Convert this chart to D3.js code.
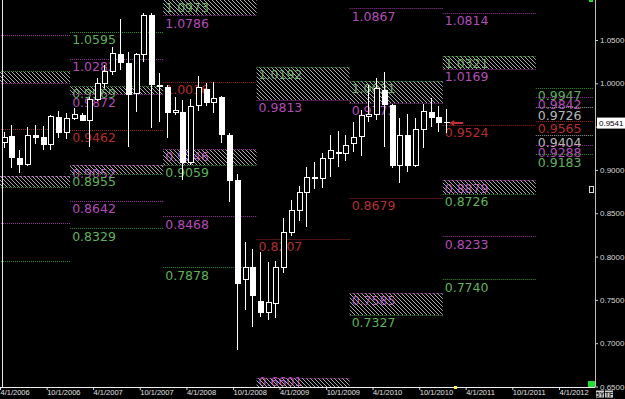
<!DOCTYPE html>
<html><head><meta charset="utf-8">
<script src="https://cdn.jsdelivr.net/npm/d3@7"></script>
<style>body{margin:0;background:#000;overflow:hidden}svg{display:block}</style>
</head><body><svg id="c" width="625" height="399"></svg>
<script>
// ---------- DATA ----------
const months = ["2006-04","2006-05","2006-06","2006-07","2006-08","2006-09","2006-10","2006-11","2006-12",
"2007-01","2007-02","2007-03","2007-04","2007-05","2007-06","2007-07","2007-08","2007-09","2007-10","2007-11","2007-12",
"2008-01","2008-02","2008-03","2008-04","2008-05","2008-06","2008-07","2008-08","2008-09","2008-10","2008-11","2008-12",
"2009-01","2009-02","2009-03","2009-04","2009-05","2009-06","2009-07","2009-08","2009-09","2009-10","2009-11","2009-12",
"2010-01","2010-02","2010-03","2010-04","2010-05","2010-06","2010-07","2010-08","2010-09","2010-10","2010-11","2010-12","2011-01"];
const open  = [0.9308,0.9389,0.9135,0.9058,0.9404,0.9384,0.9288,0.9615,0.9423,
0.9588,0.9635,0.9569,0.9808,0.9989,1.0127,1.0338,1.0238,0.9873,1.0327,1.0788,0.9981,
0.9954,0.9654,0.9673,0.9081,0.9738,0.9931,0.9770,0.9839,0.9404,0.8885,0.7731,0.7884,
0.7488,0.7347,0.7454,0.7866,0.8277,0.8530,0.8738,0.8908,0.8893,0.9124,0.9211,0.9181,
0.9297,0.9377,0.9615,0.9635,0.9923,0.9750,0.9046,0.9404,0.9050,0.9462,0.9673,0.9608,0.9555];
const high  = [0.9440,0.9519,0.9231,0.9493,0.9519,0.9511,0.9635,0.9681,0.9654,
0.9715,0.9660,0.9846,1.0058,1.0212,1.0423,1.0742,1.0365,1.0353,1.0808,1.0808,1.0123,
0.9981,0.9842,0.9808,0.9816,1.0085,1.0000,1.0019,0.9850,0.9423,0.8954,0.8173,0.8085,
0.8058,0.7935,0.7954,0.8443,0.8654,0.8815,0.9031,0.9096,0.9193,0.9404,0.9450,0.9404,
0.9557,0.9692,0.9981,1.0058,1.0134,0.9760,0.9597,0.9646,0.9597,0.9758,0.9831,0.9738,0.9700];
const low   = [0.9250,0.9027,0.8962,0.9050,0.9297,0.9231,0.9231,0.9366,0.9358,
0.9577,0.9560,0.9269,0.9796,0.9943,1.0096,1.0154,0.9269,0.9673,1.0250,0.9481,0.9557,
0.9366,0.9635,0.8885,0.9058,0.9681,0.9738,0.9654,0.9315,0.8634,0.6923,0.7385,0.7192,
0.7308,0.7269,0.7289,0.7808,0.8238,0.8415,0.8346,0.8777,0.8789,0.8923,0.9031,0.9107,
0.9211,0.9165,0.9557,0.9577,0.9269,0.9019,0.8854,0.8980,0.9038,0.9250,0.9490,0.9442,0.9423];
const close = [0.9384,0.9135,0.9058,0.9404,0.9373,0.9288,0.9623,0.9423,0.9597,
0.9643,0.9569,0.9819,1.0000,1.0146,1.0347,1.0238,0.9865,1.0338,1.0788,0.9981,0.9954,
0.9654,0.9692,0.9081,0.9738,0.9954,0.9770,0.9834,0.9404,0.8873,0.7685,0.7884,0.7546,
0.7347,0.7481,0.7877,0.8288,0.8538,0.8750,0.8916,0.8919,0.9135,0.9231,0.9181,0.9285,
0.9384,0.9635,0.9640,0.9943,0.9750,0.9046,0.9404,0.9050,0.9473,0.9681,0.9597,0.9539,0.9541];
const lastPrice = 0.9541;

// level periods
const periodNames = ["2006","2007","2008","2009","2010","2011","2012"];
const periodStart = ["2006-01-01","2007-01-01","2008-01-01","2009-01-01","2010-01-01","2011-01-01","2012-01-01"];
const periodEnd   = ["2007-01-01","2008-01-01","2009-01-01","2010-01-01","2011-01-01","2012-01-01","2012-08-15"];
const labelledPeriods = ["2007","2008","2009","2010","2011","2012"];

// single levels: period, value, colour kind
const lvlPeriod = ["2006","2006","2006","2006",
  "2007","2007","2007","2007","2007",
  "2008","2008","2008",
  "2009",
  "2010","2010",
  "2011","2011","2011","2011",
  "2012","2012","2012","2012","2012","2012","2012"];
const lvlValue = [1.0558,0.9470,0.8382,0.7950,
  1.0595,1.0282,0.9462,0.8642,0.8329,
  1.0016,0.8468,0.7878,
  0.8207,
  1.0867,0.8679,
  1.0814,0.9524,0.8233,0.7740,
  0.9947,0.9842,0.9726,0.9565,0.9404,0.9288,0.9183];
const lvlKind = ["p","r","p","g",
  "g","p","r","p","g",
  "r","p","g",
  "r",
  "p","r",
  "p","r","p","g",
  "g","p","w","r","w","p","g"];

// hatched zones: period, top value, bottom value, top kind, bottom kind
const bandPeriod = ["2006","2006","2007","2007","2008","2008","2009","2009","2010","2010","2011","2011"];
const bandTop    = [1.0142,0.8933,0.9969,0.9052,1.0973,0.9246,1.0192,0.6601,1.0031,0.7585,1.0321,0.8879];
const bandBottom = [1.0007,0.8798,0.9872,0.8955,1.0786,0.9059,0.9813,0.6222,0.9773,0.7327,1.0169,0.8726];
const bandTopKind= ["g","p","g","p","g","p","g","p","g","p","g","p"];
const bandBotKind= ["p","g","p","g","p","g","p","g","p","g","p","g"];

const xTickDates = ["2006-04-01","2006-10-01","2007-04-01","2007-10-01","2008-04-01","2008-10-01","2009-04-01",
  "2009-10-01","2010-04-01","2010-10-01","2011-04-01","2011-10-01","2012-04-01"];
const yTicks = [0.65,0.70,0.75,0.80,0.85,0.90,0.95,1.00,1.05];

// ---------- DRAW ----------
const svg = d3.select("#c");
const plotR = 595, plotB = 387;
const pd = d3.timeParse("%Y-%m-%d"), pm = d3.timeParse("%Y-%m");
const x = d3.scaleTime().domain([pd("2006-04-01"), pd("2012-04-01")]).range([0,559]);
const y = d3.scaleLinear().domain([0.65,1.05]).range([386.5,40]);

const textCol = {g:"#5fb25a", p:"#b44cb8", r:"#b52e2e", w:"#b8b8b8"};
const lineCol = {g:"#3f8f3c", p:"#9a3a9c", r:"#9c2626", w:"#9a9a9a"};
const pIdx = n => periodNames.indexOf(n);
const px0 = n => x(pd(periodStart[pIdx(n)]));
const px1 = n => x(pd(periodEnd[pIdx(n)]));

const defs = svg.append("defs");
const pat = defs.append("pattern").attr("id","hatch").attr("patternUnits","userSpaceOnUse")
  .attr("width",4).attr("height",4);
pat.append("path").attr("d","M-1,-1L5,5M-1,3L1,5M3,-1L5,1").attr("stroke","#aaaaaa").attr("stroke-width",1);
defs.append("clipPath").attr("id","plot").append("rect").attr("x",0).attr("y",0).attr("width",plotR).attr("height",plotB);

svg.append("rect").attr("width",625).attr("height",399).attr("fill","#000");

const over = svg.append("g").attr("clip-path","url(#plot)");
const labFont = "'DejaVu Sans', sans-serif";

function levelLine(g, period, v, k){
  const yy = Math.round(y(v)) + 0.5;
  g.append("line").attr("x1",px0(period)).attr("x2",px1(period)).attr("y1",yy).attr("y2",yy)
    .attr("stroke",lineCol[k]).attr("stroke-width",1).attr("stroke-dasharray","1,1");
}
function levelLabel(g, period, v, k){
  if (!labelledPeriods.includes(period)) return;
  if (y(v) > plotB - 2) return;   // line below the plot: label not shown
  g.append("text").attr("x",px0(period)+2).attr("y",Math.min(y(v)+12.5, plotB - 1))
    .attr("font-family",labFont).attr("font-size",12.5).attr("fill",textCol[k]).text(v.toFixed(4));
}

// single levels
const gLev = over.append("g");
lvlValue.forEach((v,i)=>{ levelLine(gLev, lvlPeriod[i], v, lvlKind[i]); levelLabel(gLev, lvlPeriod[i], v, lvlKind[i]); });
// band labels (under hatch)
bandTop.forEach((v,i)=>{
  levelLabel(gLev, bandPeriod[i], v, bandTopKind[i]);
  levelLabel(gLev, bandPeriod[i], bandBottom[i], bandBotKind[i]);
});

// vertical line at left
svg.append("line").attr("x1",2.5).attr("x2",2.5).attr("y1",0).attr("y2",plotB).attr("stroke","#e8e8e8");

// candles
const gC = svg.append("g");
months.forEach((m,i)=>{
  const cx = Math.round(x(d3.timeDay.offset(pm(m),14))) + 0.5;
  const o=open[i], c=close[i];
  gC.append("line").attr("x1",cx).attr("x2",cx).attr("y1",Math.round(y(high[i]))).attr("y2",Math.round(y(low[i])))
    .attr("stroke","#ffffff").attr("stroke-width",1);
  const yt = Math.round(y(Math.max(o,c))), yb = Math.round(y(Math.min(o,c)));
  const h = Math.max(1, yb-yt);
  if (c >= o) {
    gC.append("rect").attr("x",cx-2).attr("y",yt+0.5).attr("width",5).attr("height",Math.max(1,h-1))
      .attr("fill","#000").attr("stroke","#ffffff").attr("stroke-width",1);
  } else {
    gC.append("rect").attr("x",cx-2.5).attr("y",yt).attr("width",6).attr("height",h).attr("fill","#ffffff");
  }
});

// hatched zones on top
const gB = over.append("g");
bandTop.forEach((t,i)=>{
  const p = bandPeriod[i];
  const y0 = Math.round(y(t)), y1 = Math.round(y(bandBottom[i]));
  gB.append("rect").attr("x",px0(p)).attr("y",y0).attr("width",px1(p)-px0(p)).attr("height",y1-y0).attr("fill","url(#hatch)");
  levelLine(gB, p, t, bandTopKind[i]);
  levelLine(gB, p, bandBottom[i], bandBotKind[i]);
});

// red arrow near last candle
const ax = x(d3.timeDay.offset(pm(months[months.length-1]),14));
const ay = y(lastPrice);
svg.append("path").attr("d",`M${ax+3},${ay}L${ax+8},${ay-3}L${ax+8},${ay-1}L${ax+17},${ay-1}L${ax+17},${ay+1}L${ax+8},${ay+1}L${ax+8},${ay+3}Z`)
  .attr("fill","#c03030");

// axes
const axFont = "'Liberation Sans', Arial, sans-serif";
const xa = svg.append("g").attr("transform",`translate(0,${plotB})`)
  .call(d3.axisBottom(x).tickValues(xTickDates.map(pd)).tickSize(3).tickFormat(d3.timeFormat("%-m/%-d/%Y")));
xa.select(".domain").remove();
xa.selectAll(".tick line").attr("stroke","#dddddd");
xa.selectAll(".tick text").attr("text-anchor","start").attr("x",0).attr("y",3).attr("dy","0.71em")
  .attr("font-family",axFont).attr("font-size",7.5).attr("fill","#e0e0e0");
svg.append("line").attr("x1",0).attr("x2",plotR).attr("y1",plotB+0.5).attr("y2",plotB+0.5).attr("stroke","#f0f0f0");

const ya = svg.append("g").attr("transform",`translate(${plotR},0)`)
  .call(d3.axisRight(y).tickValues(yTicks).tickSize(3).tickFormat(d => Math.abs(d - 0.95) < 1e-9 ? "" : d3.format(".4f")(d)));
ya.select(".domain").remove();
ya.selectAll(".tick line").attr("stroke","#cccccc");
ya.selectAll(".tick text").attr("x",5).attr("font-family",axFont).attr("font-size",8).attr("fill","#d8d8d8");
svg.append("line").attr("x1",plotR+0.5).attr("x2",plotR+0.5).attr("y1",0).attr("y2",plotB).attr("stroke","#bdbdbd");

// current price box
svg.append("rect").attr("x",597).attr("y",y(lastPrice)-5.5).attr("width",28).attr("height",11).attr("fill","#ffffff");
svg.append("text").attr("x",599).attr("y",y(lastPrice)+3).attr("font-family",axFont).attr("font-size",8)
  .attr("fill","#000").text(lastPrice.toFixed(4));

// small widgets
svg.append("rect").attr("x",588).attr("y",381).attr("width",7).attr("height",6).attr("fill","#22dd33");
svg.append("rect").attr("x",589).attr("y",0).attr("width",4).attr("height",2).attr("fill","#22dd33");
svg.append("rect").attr("x",589.5).attr("y",186.5).attr("width",4).attr("height",6).attr("fill","#000").attr("stroke","#dddddd");
svg.append("rect").attr("x",454).attr("y",386).attr("width",3).attr("height",3).attr("fill","#ffee44");
[["5Y",596],["TF",605]].forEach(([t,bx])=>{
  svg.append("rect").attr("x",bx).attr("y",390.5).attr("width",8).attr("height",7).attr("fill","#cfcfcf");
  svg.append("text").attr("x",bx+4).attr("y",396.5).attr("text-anchor","middle").attr("font-family",axFont)
    .attr("font-size",6.5).attr("font-weight","bold").attr("fill","#222").text(t);
});
</script></body></html>
